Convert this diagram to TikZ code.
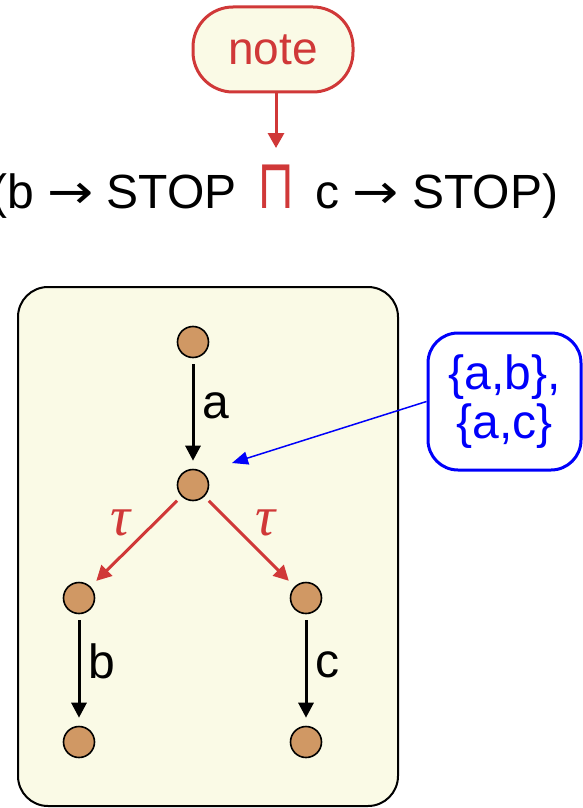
\documentclass[tikz,border=0pt]{standalone}
\usepackage{fontspec}
\setmainfont{Liberation Sans}
\newfontfamily\opfont{DejaVu Sans}
\newfontfamily\greekfont{Liberation Serif}
\usetikzlibrary{arrows.meta}
\definecolor{notered}{RGB}{208,56,56}
\definecolor{cream}{RGB}{250,250,230}
\definecolor{statebrown}{RGB}{208,152,100}
\definecolor{annblue}{RGB}{0,0,250}
\newcommand{\then}{\scalebox{1.15}[1]{\opfont →}}

\begin{document}
\begin{tikzpicture}[x=0.5pt,y=-0.5pt,
  big/.style={font=\fontsize{24}{28}\selectfont},
  notebox/.style={draw=notered,line width=1.5pt,fill=cream,rounded corners=20pt,
    minimum width=80pt,minimum height=42.5pt,text=notered,font=\fontsize{23}{27}\selectfont},
  annbox/.style={draw=annblue,line width=1.5pt,fill=white,rounded corners=15pt,
    minimum width=76.5pt,minimum height=68.5pt,text=annblue,align=center,
    font=\fontsize{24}{24.5}\selectfont},
  state/.style={circle,draw=black,line width=0.8pt,fill=statebrown,minimum size=15.5pt,inner sep=0pt},
  trans/.style={-{Triangle[length=7.5pt,width=7.5pt]},line width=1.5pt,shorten >=4pt,shorten <=3pt},
  tautrans/.style={trans,draw=notered,-{Triangle[length=7.5pt,width=7.5pt,fill=notered]}},
  lbl/.style={big,inner sep=4pt},
  taulbl/.style={text=notered,inner sep=2pt,font=\greekfont\itshape\fontsize{28}{30}\selectfont}]
  \useasboundingbox (0,0) rectangle (583,808);
  \clip (0,0) rectangle (583,808);

  % the process term
  \node[notebox] (note) at (273,49.5) {note};
  \node[big,text=notered,anchor=base,inner xsep=5pt,inner ysep=1pt] (choice) at (276,208)
    {\scalebox{1}[1.45]{\opfont ⊓}};
  \node[big,anchor=base east,inner xsep=5pt] (lhs) at (choice.base west) {(b \then{} STOP};
  \node[big,anchor=base west,inner xsep=5pt] (rhs) at (choice.base east) {c \then{} STOP)};
  \draw[notered,line width=1.5pt,-{Triangle[length=7.5pt,width=8pt]},shorten >=7pt]
    (note.south -| choice) -- (choice.north);

  % transition system
  \draw[line width=1pt,fill=cream,rounded corners=15pt] (18,287) rectangle (398,806);
  \node[state] (s0) at (193,342) {};
  \node[state] (s1) at (193,485) {};
  \node[state] (s2) at (79,598) {};
  \node[state] (s3) at (306,598) {};
  \node[state] (s4) at (79,742) {};
  \node[state] (s5) at (306,742) {};

  \draw[trans] (s0) -- node[lbl,right,pos=0.43] (la) {a} (s1);
  \draw[tautrans] (s1) -- node[taulbl,above left] (tl) {τ} (s2);
  \draw[tautrans] (s1) -- node[taulbl,above right] (tr) {τ} (s3);
  \draw[trans] (s2) -- node[lbl,right,pos=0.42] (lb) {b} (s4);
  \draw[trans] (s3) -- node[lbl,right,pos=0.45] (lc) {c} (s5);

  % refusal annotation
  \node[annbox] (ann) at (504.5,401.5) {\{a,b\},\\\{a,c\}};
  \coordinate (annend) at (232,463);
  \draw[annblue,line width=0.75pt,-{Triangle[length=8pt,width=6.5pt]}] (ann.west) -- (annend);
\end{tikzpicture}
\end{document}
